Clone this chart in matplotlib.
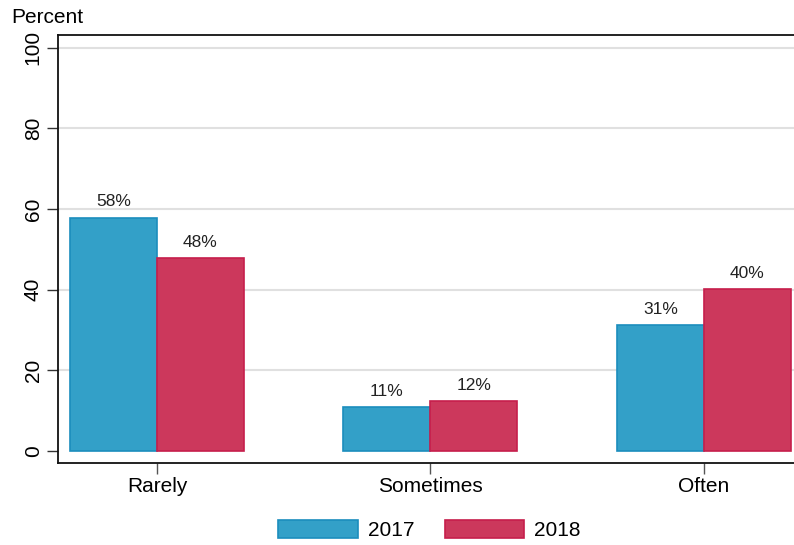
import numpy as np
import matplotlib
matplotlib.use('Agg')
import matplotlib.pyplot as plt

plt.rcParams['font.family'] = ['Liberation Sans', 'DejaVu Sans']

categories = ['Rarely', 'Sometimes', 'Often']
years = ['2017', '2018']
values_2017 = [57.9, 10.9, 31.2]
values_2018 = [47.8, 12.3, 40.1]
labels_2017 = ['58%', '11%', '31%']
labels_2018 = ['48%', '12%', '40%']

blue = '#33a0c8'
blue_edge = '#1b8dbd'
red = '#cc385c'
red_edge = '#c61e4c'

fig = plt.figure(figsize=(7.94, 5.45), dpi=100)
ax = fig.add_axes([0.073, 0.1505, 0.927, 0.7853])

x = np.arange(len(categories))
w = 0.318
b1 = ax.bar(x - w / 2, values_2017, w, color=blue, edgecolor=blue_edge,
            linewidth=1.2, label=years[0], zorder=3)
b2 = ax.bar(x + w / 2, values_2018, w, color=red, edgecolor=red_edge,
            linewidth=1.2, label=years[1], zorder=3)

for bar, lab in zip(b1, labels_2017):
    ax.text(bar.get_x() + bar.get_width() / 2, bar.get_height() + 2.0, lab,
            ha='center', va='bottom', fontsize=12.5, color='#222222')
for bar, lab in zip(b2, labels_2018):
    ax.text(bar.get_x() + bar.get_width() / 2, bar.get_height() + 2.0, lab,
            ha='center', va='bottom', fontsize=12.5, color='#222222')

ax.set_xlim(-0.362, 2.33)
ax.set_ylim(-3.0, 103.2)
ax.set_yticks([0, 20, 40, 60, 80, 100])
ax.set_yticklabels(['0', '20', '40', '60', '80', '100'], rotation=90,
                   va='center', fontsize=15)
ax.set_xticks(x)
ax.set_xticklabels(categories, fontsize=15)
ax.tick_params(axis='y', length=8, width=1, color='#333333', pad=3)
ax.tick_params(axis='x', length=8, width=1, color='#555555', pad=2)

for yv in [20, 40, 60, 80, 100]:
    ax.axhline(yv, color='#e0e0e0', linewidth=1.5, zorder=1)

ax.spines['right'].set_visible(False)
for s in ['left', 'top', 'bottom']:
    ax.spines[s].set_color('#111111')
    ax.spines[s].set_linewidth(1.3)

fig.text(0.014, 0.968, 'Percent', fontsize=15, ha='left', va='center')

fig.legend(handles=[b1, b2], labels=years, loc='center', ncol=2,
           bbox_to_anchor=(0.541, 0.0275), frameon=False, fontsize=15,
           handlelength=3.8, handleheight=1.0, columnspacing=1.45,
           handletextpad=0.5)

fig.savefig('out.png', dpi=100)
